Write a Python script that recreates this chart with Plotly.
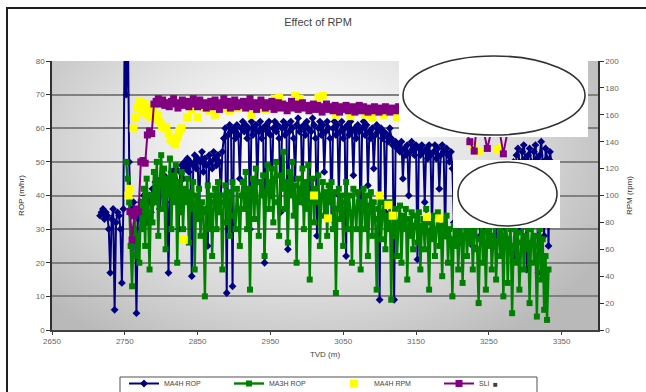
import base64, struct, zlib
import numpy as np
import plotly.graph_objects as go

# ---------------- data ----------------
# MA4H ROP (m/hr), sampled every 2 m of TVD starting at 2716 m
ma4h_rop_start, ma4h_rop_step = 2716, 2
ma4h_rop = [
    34, 35, 36, 33, 35, 34, 30, 17, 33, 36, 6, 32, 35, 34, 30, 14, 36, 95, 70, 95,
    50, 36, 34, 38, 30, 5, 33, 36, 38, 34, 40, 36, 32, 38, 40, 35, 42, 38, 44, 40,
    42, 36, 45, 40, 46, 38, 44, 17, 42, 47, 45, 40, 48, 44, 30, 47, 49, 45, 50, 48,
    51, 47, 50, 16, 49, 52, 48, 51, 35, 50, 53, 47, 51, 49, 25, 52, 50, 48, 53, 51,
    49, 52, 50, 40, 53, 57, 60, 11, 58, 61, 59, 13, 60, 57, 61, 58, 45, 60, 62, 59,
    61, 57, 60, 30, 62, 58, 60, 61, 44, 59, 62, 57, 60, 20, 61, 59, 62, 58, 40, 60,
    62, 59, 61, 57, 35, 60, 62, 58, 61, 24, 59, 62, 60, 57, 45, 61, 63, 59, 60, 38,
    61, 58, 62, 60, 42, 59, 63, 61, 57, 28, 60, 62, 58, 61, 47, 59, 62, 60, 57, 33,
    60, 62, 58, 61, 40, 59, 62, 57, 60, 22, 61, 58, 62, 59, 46, 60, 57, 61, 59, 30,
    60, 62, 58, 61, 43, 59, 57, 60, 48, 58, 61, 59, 9, 60, 57, 59, 35, 58, 56, 60,
    57, 55, 9, 56, 54, 55, 53, 56, 45, 54, 52, 55, 40, 53, 56, 54, 52, 55, 21, 54,
    52, 55, 53, 38, 54, 51, 55, 52, 30, 53, 55, 51, 54, 42, 52, 55, 53, 28, 54, 52,
    50, 53, 48, 32, 47, 44, 46, 26, 44, 40, 46, 42, 30, 45, 41, 44, 25, 43, 40, 46,
    42, 28, 44, 40, 45, 30, 43, 41, 26, 44, 40, 45, 28, 42, 44, 30, 41, 45, 26, 43,
    40, 45, 38, 47, 50, 22, 52, 54, 50, 30, 53, 55, 51, 18, 52, 54, 50, 35, 53, 55,
    51, 17, 52, 56, 50, 28, 54, 51, 25, 53, 50]
ma4h_depth = [ma4h_rop_start + ma4h_rop_step * i for i in range(len(ma4h_rop))]

# MA3H ROP (m/hr), sampled every 2 m of TVD starting at 2752 m
ma3h_rop_start, ma3h_rop_step = 2752, 2
ma3h_rop = [
    50, 45, 38, 25, 13, 30, 35, 22, 28, 20, 38, 30, 42, 25, 45, 35, 18, 40, 32, 47,
    38, 50, 28, 44, 52, 36, 48, 24, 45, 40, 51, 30, 46, 38, 49, 20, 44, 35, 47, 30,
    42, 38, 45, 26, 41, 36, 44, 18, 40, 33, 42, 28, 38, 35, 10, 36, 43, 30, 40, 22,
    38, 42, 30, 44, 35, 40, 18, 38, 43, 32, 41, 28, 39, 44, 34, 30, 42, 36, 25, 40,
    44, 36, 47, 30, 42, 12, 40, 45, 33, 48, 38, 28, 44, 40, 46, 22, 41, 49, 36, 44,
    48, 32, 45, 50, 38, 28, 46, 42, 53, 36, 44, 26, 47, 40, 50, 34, 43, 20, 45, 38,
    42, 48, 30, 44, 36, 49, 15, 40, 45, 32, 42, 38, 46, 25, 40, 44, 34, 41, 28, 43,
    38, 44, 30, 41, 11, 36, 42, 33, 40, 25, 38, 44, 30, 40, 35, 20, 42, 36, 30, 41,
    38, 18, 36, 42, 30, 40, 22, 37, 41, 28, 38, 33, 12, 36, 40, 27, 35, 38, 24, 34,
    30, 38, 9, 34, 28, 36, 22, 32, 37, 20, 34, 30, 36, 15, 33, 28, 35, 24, 31, 34,
    26, 35, 18, 31, 33, 24, 36, 29, 12, 32, 27, 34, 22, 30, 35, 25, 31, 16, 33, 28,
    34, 20, 30, 27, 10, 31, 25, 33, 18, 29, 32, 14, 28, 33, 22, 30, 26, 34, 18, 29,
    31, 24, 8, 27, 32, 20, 29, 12, 30, 25, 34, 18, 28, 33, 15, 26, 31, 22, 35, 10,
    28, 32, 14, 27, 30, 5, 25, 31, 20, 29, 12, 26, 33, 18, 28, 24, 30, 8, 26, 31,
    20, 28, 4, 25, 30, 15, 27, 6, 22, 3, 18]
ma3h_depth = [ma3h_rop_start + ma3h_rop_step * i for i in range(len(ma3h_rop))]

# MA4H RPM (rpm, right axis)
ma4h_rpm_depth = [2755, 2757, 2762, 2765, 2768, 2771, 2774, 2777, 2780, 2783, 2786, 2789,
                  2792, 2795, 2798, 2801, 2804, 2807, 2810, 2813, 2816, 2819, 2822, 2825,
                  2828, 2831, 2836, 2842, 2850, 2858, 2866, 2874, 2884, 2894, 2904, 2914,
                  2924, 2934, 2944, 2956, 2962, 2970, 2984, 2990, 3000, 3010, 3016, 3022,
                  3029, 3040, 3050, 3060, 3070, 3080, 3090, 3100, 3106, 3112, 3118, 3124,
                  3165, 3182, 3228, 3236, 3262, 3268]
ma4h_rpm = [100, 105, 150, 158, 165, 170, 162, 168, 160, 165, 158, 162,
            157, 160, 155, 152, 150, 151, 146, 142, 140, 138, 143, 148,
            150, 67, 158, 164, 158, 165, 163, 160, 165, 163, 165, 166,
            160, 165, 164, 172, 173, 166, 174, 172, 166, 100, 173, 174,
            83, 160, 166, 159, 165, 160, 158, 100, 160, 93, 85, 158,
            84, 83, 137, 133, 134, 136]

# SLI (rpm, right axis)
sli_head_depth = [2757, 2760, 2763, 2766, 2769, 2772, 2775, 2778, 2781, 2784, 2787, 2790]
sli_head = [88, 67, 85, 90, 88, 125, 126, 124, 145, 148, 146, 168]
sli_band_start, sli_band_step = 2793, 3
sli_band = [
    170, 172, 168, 171, 167, 169, 166, 170, 172, 168, 165, 169, 171, 167, 170, 166, 168, 172, 169, 166,
    171, 167, 169, 165, 168, 170, 166, 171, 168, 164, 169, 172, 167, 170, 165, 168, 171, 166, 169, 167,
    170, 165, 168, 172, 166, 169, 164, 168, 171, 167, 165, 169, 166, 170, 164, 167, 169, 165, 168, 166,
    163, 167, 170, 165, 168, 164, 166, 169, 165, 167, 163, 166, 168, 164, 167, 165, 162, 166, 168, 164,
    166, 163, 167, 165, 162, 166, 164, 167, 163, 165, 166, 162, 165, 167, 163, 166, 164, 162, 165, 163,
    166, 164, 162, 165, 163, 166, 164, 162, 165, 163, 164, 166, 163]
sli_tail_depth = [3150, 3180, 3210, 3224, 3230, 3236, 3248, 3260, 3270, 3280]
sli_tail = [163, 165, 162, 140, 133, 166, 135, 164, 131, 160]
sli_depth = sli_head_depth + [sli_band_start + sli_band_step * i for i in range(len(sli_band))] + sli_tail_depth
sli = sli_head + sli_band + sli_tail

x_ticks = [2650, 2750, 2850, 2950, 3050, 3150, 3250, 3350]
y_ticks = [0, 10, 20, 30, 40, 50, 60, 70, 80]
y2_ticks = [0, 20, 40, 60, 80, 100, 120, 140, 160, 180, 200]

# ---------------- layout geometry ----------------
W, H = 646, 392
ML, MR, MT, MB = 52, 48, 61, 62
PW, PH = W - ML - MR, H - MT - MB


def px_x(p):
    return (p - ML) / PW


def px_y(p):
    return (H - MB - p) / PH


# gradient background for plot area (PNG made in memory)
def make_png(arr):
    h, w, _ = arr.shape
    raw = b"".join(b"\x00" + arr[r].tobytes() for r in range(h))

    def chunk(tag, data):
        c = tag + data
        return struct.pack(">I", len(data)) + c + struct.pack(">I", zlib.crc32(c) & 0xffffffff)
    png = b"\x89PNG\r\n\x1a\n" + chunk(b"IHDR", struct.pack(">IIBBBBB", w, h, 8, 2, 0, 0, 0)) \
        + chunk(b"IDAT", zlib.compress(raw, 9)) + chunk(b"IEND", b"")
    return "data:image/png;base64," + base64.b64encode(png).decode()


yy, xx = np.mgrid[0:PH, 0:PW]
cx, cy = 250, 90
d = np.sqrt(((xx - cx) / 340.0) ** 2 + ((yy - cy) / 230.0) ** 2)
d = np.clip(d, 0, 1)
g = (255 - 70 * d ** 1.4).astype(np.uint8)
bg = np.stack([g, g, g], axis=-1)
bg_uri = make_png(bg)

FONT = "Liberation Sans, Arial, sans-serif"

fig = go.Figure()
fig.add_trace(go.Scatter(x=ma4h_depth, y=ma4h_rop, name="MA4H ROP", mode="lines+markers",
                         line=dict(color="#000080", width=2),
                         marker=dict(symbol="diamond", size=6, color="#000080")))
fig.add_trace(go.Scatter(x=ma3h_depth, y=ma3h_rop, name="MA3H ROP", mode="lines+markers",
                         line=dict(color="#008000", width=2.4),
                         marker=dict(symbol="square", size=6, color="#008000")))
fig.add_trace(go.Scatter(x=ma4h_rpm_depth, y=ma4h_rpm, name="MA4H RPM", mode="markers",
                         yaxis="y2",
                         marker=dict(symbol="square", size=8, color="#FFFF00")))
fig.add_trace(go.Scatter(x=sli_depth, y=sli, name="SLI", mode="lines+markers",
                         yaxis="y2",
                         line=dict(color="#800080", width=2),
                         marker=dict(symbol="square", size=7, color="#800080")))

fig.update_layout(
    width=W, height=H,
    margin=dict(l=ML, r=MR, t=MT, b=MB, autoexpand=False),
    paper_bgcolor="white",
    plot_bgcolor="rgba(0,0,0,0)",
    font=dict(family=FONT, size=8, color="#555555"),
    title=dict(text="Effect of RPM", x=318 / W, xanchor="center", y=1 - 22 / H, yanchor="middle",
               font=dict(family=FONT, size=11, color="#444444")),
    showlegend=True,
    legend=dict(orientation="h", x=px_x(124), xanchor="left", y=px_y(369), yanchor="top",
                borderwidth=0, bgcolor="rgba(0,0,0,0)",
                font=dict(size=7, color="#444444"),
                entrywidth=60, entrywidthmode="pixels", itemwidth=30),
    xaxis=dict(range=[2650, 3400], tickvals=x_ticks, ticktext=[str(v) for v in x_ticks],
               showgrid=False, zeroline=False, showline=True, linecolor="#404040", linewidth=1.5,
               ticks="outside", ticklen=3, tickcolor="#404040",
               title=dict(text="TVD (m)", font=dict(size=8, color="#444444"), standoff=6),
               tickfont=dict(size=8, color="#666666")),
    yaxis=dict(range=[0, 80], tickvals=y_ticks, showgrid=True, gridcolor="#808080", gridwidth=1.6,
               zeroline=False, showline=True, linecolor="#303030", linewidth=1.5,
               ticks="outside", ticklen=4, tickcolor="#303030",
               title=dict(text="ROP (m/hr)", font=dict(size=8, color="#333333"), standoff=10),
               tickfont=dict(size=8, color="#666666")),
    yaxis2=dict(range=[0, 200], tickvals=y2_ticks, overlaying="y", side="right",
                showgrid=False, zeroline=False, showline=True, linecolor="#303030", linewidth=1.5,
                ticks="outside", ticklen=4, tickcolor="#303030",
                title=dict(text="RPM (rpm)", font=dict(size=8, color="#333333"), standoff=8),
                tickfont=dict(size=8, color="#666666")),
    images=[dict(source=bg_uri, xref="paper", yref="paper", x=0, y=1, sizex=1, sizey=1,
                 sizing="stretch", layer="below", xanchor="left", yanchor="top")],
)

# legend frame
fig.add_shape(type="rect", xref="paper", yref="paper",
              x0=px_x(120), x1=px_x(537), y0=px_y(400), y1=px_y(377),
              line=dict(color="#505050", width=1), fillcolor="white", layer="above")

# small square key shown after the last legend label
fig.add_annotation(text="■", xref="paper", yref="paper", x=px_x(500), y=px_y(384),
                   yanchor="middle", showarrow=False, font=dict(size=8, color="#404040"))

# outer chart border
fig.add_shape(type="rect", xref="paper", yref="paper",
              x0=px_x(7), x1=px_x(660), y0=px_y(410), y1=px_y(8),
              line=dict(color="#202020", width=2), fillcolor="rgba(0,0,0,0)", layer="above")

# white cover boxes with ellipses
fig.add_shape(type="rect", xref="paper", yref="paper",
              x0=px_x(399), x1=px_x(588), y0=px_y(137), y1=px_y(54),
              line=dict(width=0), fillcolor="white", layer="above")
fig.add_shape(type="circle", xref="paper", yref="paper",
              x0=px_x(403), x1=px_x(585), y0=px_y(135), y1=px_y(56),
              line=dict(color="#333333", width=1.6), fillcolor="white", layer="above")
fig.add_shape(type="rect", xref="paper", yref="paper",
              x0=px_x(453), x1=px_x(560), y0=px_y(228), y1=px_y(160),
              line=dict(width=0), fillcolor="white", layer="above")
fig.add_shape(type="circle", xref="paper", yref="paper",
              x0=px_x(458), x1=px_x(557), y0=px_y(226), y1=px_y(162),
              line=dict(color="#333333", width=1.6), fillcolor="white", layer="above")

fig.write_html("out.html", config={"displayModeBar": False},
               post_script="document.body.style.margin='0';document.body.style.overflow='hidden';")
